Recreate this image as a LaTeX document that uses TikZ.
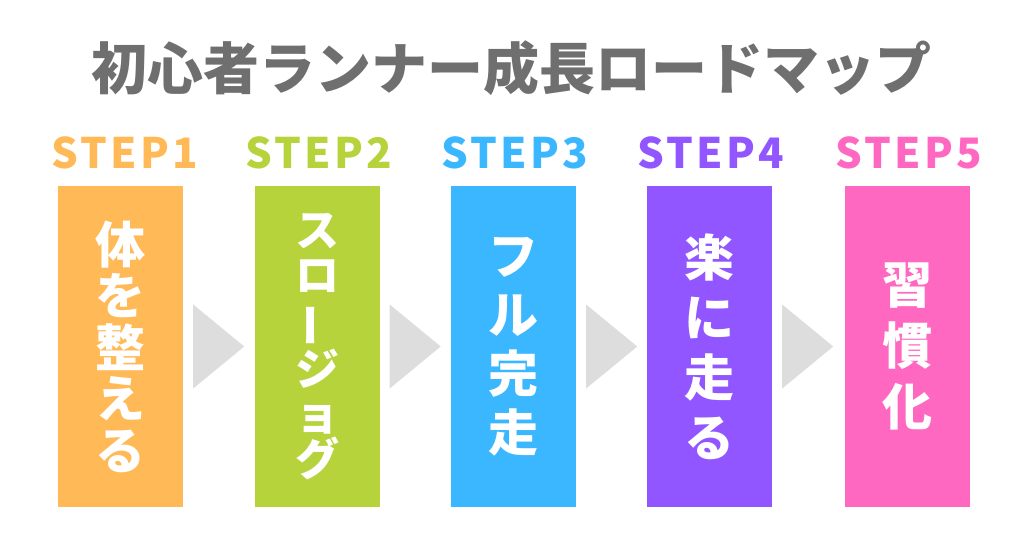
\documentclass[tikz,border=0pt]{standalone}
\usepackage{fontspec}
\usepackage{graphicx}
\usetikzlibrary{calc}
\newfontfamily\jpfont{Noto Sans CJK JP}
\newfontfamily\stepfont{Noto Sans CJK JP}[LetterSpace=8]
\definecolor{cstepA}{HTML}{FFBA57}
\definecolor{cstepB}{HTML}{B6D33C}
\definecolor{cstepC}{HTML}{3BB7FF}
\definecolor{cstepD}{HTML}{9156FF}
\definecolor{cstepE}{HTML}{FF68C1}
\definecolor{titlegray}{HTML}{6F6F6F}
\definecolor{chevgray}{HTML}{DDDDDD}
\newcommand{\vbar}{\rotatebox[origin=c]{90}{ー}}

\tikzset{
  stepbox/.style={draw=none, fill=#1, minimum width=125pt, minimum height=321pt, inner sep=0pt},
  steplabel/.style={text=#1, inner sep=0pt, font=\stepfont\bfseries\fontsize{42}{42}\selectfont},
  vtext/.style={text=white, align=center, inner sep=0pt, font=\jpfont\bfseries\fontsize{50}{#1}\selectfont},
  vkana/.style={vtext, font=\jpfont\bfseries\fontsize{44}{#1}\selectfont},
  chev/.style={fill=chevgray}
}

\begin{document}
\begin{tikzpicture}[x=1pt,y=-1pt]
\useasboundingbox (0,0) rectangle (1024,537);

\node[text=titlegray, inner sep=0pt, font=\jpfont\bfseries\fontsize{56}{56}\selectfont] (title) at (511,68) {初心者ランナー成長ロードマップ};

\node[stepbox=cstepA] (b1) at (120.5,346.5) {};
\node[stepbox=cstepB] (b2) at (317,346.5) {};
\node[stepbox=cstepC] (b3) at (513.5,346.5) {};
\node[stepbox=cstepD] (b4) at (709.5,346.5) {};
\node[stepbox=cstepE] (b5) at (907.5,346.5) {};

\node[steplabel=cstepA] (l1) at (125,153) {STEP1};
\node[steplabel=cstepB] (l2) at (319,153) {STEP2};
\node[steplabel=cstepC] (l3) at (515,153) {STEP3};
\node[steplabel=cstepD] (l4) at (711,153) {STEP4};
\node[steplabel=cstepE] (l5) at (909,153) {STEP5};

\node[vtext=51.5] (t1) at (b1) {体\\を\\整\\え\\る};
\node[vkana=45] (t2) at (b2) {ス\\ロ\\\vbar\\ジ\\ョ\\グ};
\node[vtext=59] (t3) at (b3) {フ\\ル\\完\\走};
\node[vtext=60] (t4) at (b4) {楽\\に\\走\\る};
\node[vtext=61] (t5) at (b5) {習\\慣\\化};

\fill[chev] ($(b1.east)+(10,-42)$) -- ($(b1.east)+(61,0)$) -- ($(b1.east)+(10,42)$) -- cycle;
\fill[chev] ($(b2.east)+(10,-42)$) -- ($(b2.east)+(61,0)$) -- ($(b2.east)+(10,42)$) -- cycle;
\fill[chev] ($(b3.east)+(10,-42)$) -- ($(b3.east)+(61,0)$) -- ($(b3.east)+(10,42)$) -- cycle;
\fill[chev] ($(b4.east)+(10,-42)$) -- ($(b4.east)+(61,0)$) -- ($(b4.east)+(10,42)$) -- cycle;

\end{tikzpicture}
\end{document}
